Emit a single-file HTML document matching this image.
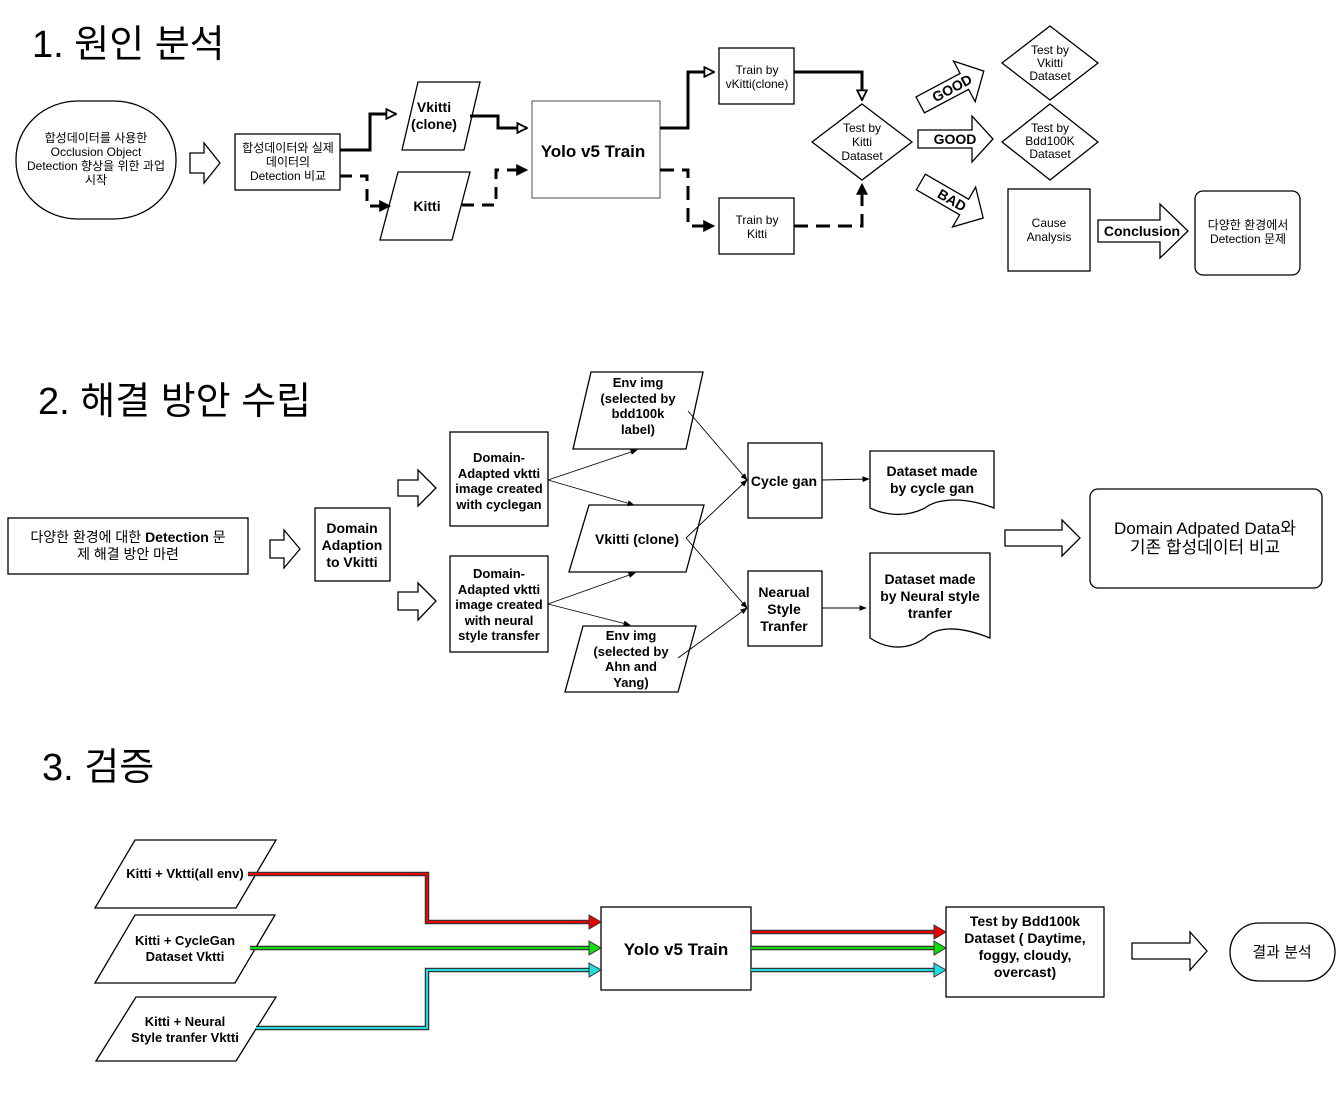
<!DOCTYPE html>
<html><head><meta charset="utf-8">
<style>
html,body{margin:0;padding:0;background:#fff;}
svg{display:block;}
text{font-family:"Liberation Sans","Noto Sans CJK KR",sans-serif;fill:#000;}
.b{font-weight:bold;}
</style></head><body>
<svg width="1340" height="1094" viewBox="0 0 1340 1094" xmlns="http://www.w3.org/2000/svg">
<defs>
<marker id="ao" viewBox="0 0 10 10" refX="9" refY="5" markerWidth="4" markerHeight="4" orient="auto" markerUnits="strokeWidth"><path d="M1,1 L9,5 L1,9 Z" fill="#fff" stroke="#000" stroke-width="1.5"/></marker>
<marker id="af" viewBox="0 0 10 10" refX="9" refY="5" markerWidth="4" markerHeight="4" orient="auto" markerUnits="strokeWidth"><path d="M0,0 L10,5 L0,10 Z" fill="#000"/></marker>
<marker id="as" viewBox="0 0 10 10" refX="9" refY="5" markerWidth="8" markerHeight="8" orient="auto" markerUnits="strokeWidth"><path d="M0,1 L10,5 L0,9 Z" fill="#000"/></marker>
</defs>
<g fill="#fff" stroke="#000" stroke-width="1.3">
<rect x="16" y="101" width="160" height="118" rx="62" ry="58"/>
<path d="M190,153 H204 V143 L220,163 L204,183 V173 H190 Z"/>
<rect x="235" y="134" width="105" height="56"/>
<path d="M418,82 H480 L464,150 H402 Z"/>
<path d="M398,172 H470 L452,240 H380 Z"/>
<rect x="532" y="101" width="128" height="97" stroke="#777"/>
<rect x="719" y="48" width="75" height="56"/>
<rect x="719" y="198" width="75" height="56"/>
<path d="M862,104 L912,142 L862,180 L812,142 Z"/>
<path d="M1050,26 L1098,63 L1050,100 L1002,63 Z"/>
<path d="M1050,104 L1098,142 L1050,180 L1002,142 Z"/>
<path d="M918,130 H972 V116 L993,139 L972,162 V148 H918 Z"/>
<g transform="translate(952,88) rotate(-28)"><path d="M-36,-9 H14 V-23 L36,0 L14,23 V9 H-36 Z"/></g>
<g transform="translate(952,200) rotate(30)"><path d="M-36,-9 H14 V-23 L36,0 L14,23 V9 H-36 Z"/></g>
<rect x="1008" y="189" width="82" height="82"/>
<path d="M1098,220 H1160 V204 L1188,231 L1160,258 V242 H1098 Z"/>
<rect x="1195" y="191" width="105" height="84" rx="8"/>
</g>
<g fill="none" stroke="#000" stroke-width="3">
<path d="M340,150 H370 V114 H396" marker-end="url(#ao)"/>
<path d="M340,176 H367 V206 H390" stroke-dasharray="12,8" marker-end="url(#af)"/>
<path d="M470,116 H498 V128 H527" marker-end="url(#ao)"/>
<path d="M462,205 H496 V170 H527" stroke-dasharray="12,8" marker-end="url(#af)"/>
<path d="M660,128 H688 V72 H714" marker-end="url(#ao)"/>
<path d="M660,170 H688 V226 H714" stroke-dasharray="14,8" marker-end="url(#af)"/>
<path d="M794,72 H862 V100" marker-end="url(#ao)"/>
<path d="M794,226 H862 V184" stroke-dasharray="14,8" marker-end="url(#af)"/>
</g>
<text x="32" y="57" font-size="38">1. 원인 분석</text>
<g font-size="12" text-anchor="middle">
<text x="96" y="142">합성데이터를 사용한</text>
<text x="96" y="156">Occlusion Object</text>
<text x="96" y="170">Detection 향상을 위한 과업</text>
<text x="96" y="184">시작</text>
<text x="288" y="152">합성데이터와 실제</text>
<text x="288" y="166">데이터의</text>
<text x="288" y="180">Detection 비교</text>
<text x="757" y="74">Train by</text>
<text x="757" y="88">vKitti(clone)</text>
<text x="757" y="224">Train by</text>
<text x="757" y="238">Kitti</text>
<text x="862" y="132">Test by</text>
<text x="862" y="146">Kitti</text>
<text x="862" y="160">Dataset</text>
<text x="1050" y="54">Test by</text>
<text x="1050" y="67">Vkitti</text>
<text x="1050" y="80">Dataset</text>
<text x="1050" y="132">Test by</text>
<text x="1050" y="145">Bdd100K</text>
<text x="1050" y="158">Dataset</text>
<text x="1049" y="227">Cause</text>
<text x="1049" y="241">Analysis</text>
<text x="1248" y="229">다양한 환경에서</text>
<text x="1248" y="243">Detection 문제</text>
</g>
<g font-size="14" text-anchor="middle" class="b">
<text class="b" x="434" y="112">Vkitti</text>
<text class="b" x="434" y="129">(clone)</text>
<text class="b" x="427" y="211">Kitti</text>
<text class="b" x="955" y="144">GOOD</text>
<text class="b" x="1142" y="236">Conclusion</text>
<text class="b" x="952" y="93" transform="rotate(-28 952 88)">GOOD</text>
<text class="b" x="952" y="205" transform="rotate(30 952 200)">BAD</text>
</g>
<text class="b" x="593" y="157" font-size="17" text-anchor="middle">Yolo v5 Train</text>

<text x="38" y="414" font-size="38">2. 해결 방안 수립</text>
<g fill="#fff" stroke="#000" stroke-width="1.3">
<rect x="8" y="518" width="240" height="56"/>
<path d="M270,540 H284 V530 L300,549 L284,568 V558 H270 Z"/>
<rect x="315" y="508" width="75" height="73"/>
<path d="M398,480 H418 V470 L436,488 L418,506 V496 H398 Z"/>
<path d="M398,592 H418 V583 L436,601 L418,620 V610 H398 Z"/>
<rect x="450" y="432" width="98" height="94"/>
<rect x="450" y="556" width="98" height="96"/>
<path d="M591,372 H703 L686,449 H573 Z"/>
<path d="M589,505 H704 L686,572 H569 Z"/>
<path d="M583,626 H696 L678,692 H565 Z"/>
<rect x="748" y="443" width="74" height="75"/>
<rect x="748" y="571" width="74" height="75"/>
<path d="M870,451 H994 V508 C960,495 935,500 925,508 C905,518 885,515 870,508 Z"/>
<path d="M870,553 H990 V638 C955,624 935,628 925,638 C905,652 885,648 870,638 Z"/>
<path d="M1005,530 H1062 V520 L1080,538 L1062,556 V546 H1005 Z"/>
<rect x="1090" y="489" width="232" height="99" rx="8"/>
</g>
<g fill="none" stroke="#000" stroke-width="0.9">
<path d="M548,480 L637,450" marker-end="url(#as)"/>
<path d="M548,480 L634,505" marker-end="url(#as)"/>
<path d="M548,604 L635,573" marker-end="url(#as)"/>
<path d="M548,604 L630,625" marker-end="url(#as)"/>
<path d="M688,411 L747,480" marker-end="url(#as)"/>
<path d="M686,538 L747,480" marker-end="url(#as)"/>
<path d="M686,538 L747,608" marker-end="url(#as)"/>
<path d="M678,658 L747,608" marker-end="url(#as)"/>
<path d="M822,480 L869,479" marker-end="url(#as)"/>
<path d="M822,608 L866,608" marker-end="url(#as)"/>
</g>
<g font-size="14" text-anchor="middle">
<text x="128" y="542">다양한 환경에 대한 <tspan class="b">Detection</tspan> 문</text>
<text x="128" y="559">제 해결 방안 마련</text>
<text x="1205" y="534" font-size="17">Domain Adpated Data와</text>
<text x="1205" y="553" font-size="17">기존 합성데이터 비교</text>
</g>
<g font-size="13" text-anchor="middle" class="b">
<text class="b" x="352" y="533" font-size="14">Domain</text>
<text class="b" x="352" y="550" font-size="14">Adaption</text>
<text class="b" x="352" y="567" font-size="14">to Vkitti</text>
<text class="b" x="499" y="462">Domain-</text>
<text class="b" x="499" y="478">Adapted vktti</text>
<text class="b" x="499" y="493">image created</text>
<text class="b" x="499" y="509">with cyclegan</text>
<text class="b" x="499" y="578">Domain-</text>
<text class="b" x="499" y="594">Adapted vktti</text>
<text class="b" x="499" y="609">image created</text>
<text class="b" x="499" y="625">with neural</text>
<text class="b" x="499" y="640">style transfer</text>
<text class="b" x="638" y="387">Env img</text>
<text class="b" x="638" y="403">(selected by</text>
<text class="b" x="638" y="418">bdd100k</text>
<text class="b" x="638" y="434">label)</text>
<text class="b" x="637" y="544" font-size="14">Vkitti (clone)</text>
<text class="b" x="631" y="640">Env img</text>
<text class="b" x="631" y="656">(selected by</text>
<text class="b" x="631" y="671">Ahn and</text>
<text class="b" x="631" y="687">Yang)</text>
<text class="b" x="784" y="486" font-size="14">Cycle gan</text>
<text class="b" x="784" y="597" font-size="14">Nearual</text>
<text class="b" x="784" y="614" font-size="14">Style</text>
<text class="b" x="784" y="631" font-size="14">Tranfer</text>
<text class="b" x="932" y="476" font-size="14">Dataset made</text>
<text class="b" x="932" y="493" font-size="14">by cycle gan</text>
<text class="b" x="930" y="584" font-size="14">Dataset made</text>
<text class="b" x="930" y="601" font-size="14">by Neural style</text>
<text class="b" x="930" y="618" font-size="14">tranfer</text>
</g>

<text x="42" y="780" font-size="38">3. 검증</text>
<g fill="#fff" stroke="#000" stroke-width="1.3">
<path d="M135,840 H276 L236,908 H95 Z"/>
<path d="M135,915 H275 L235,983 H95 Z"/>
<path d="M136,997 H276 L236,1061 H96 Z"/>
<rect x="601" y="907" width="150" height="83"/>
<rect x="946" y="907" width="158" height="90"/>
<path d="M1132,943 H1190 V932 L1207,951 L1190,970 V959 H1132 Z"/>
<rect x="1230" y="923" width="105" height="58" rx="29"/>
</g>
<g fill="none" stroke-width="4.5" stroke="#333">
<path d="M248,874 H427 V922 H590"/><path d="M250,948 H590"/><path d="M256,1028 H427 V970 H590"/>
<path d="M751,932 H935"/><path d="M751,948 H935"/><path d="M751,970 H935"/>
</g>
<g fill="none" stroke-width="2">
<path d="M248,874 H427 V922 H590" stroke="#e00"/><path d="M250,948 H590" stroke="#1d1"/><path d="M256,1028 H427 V970 H590" stroke="#2dd"/>
<path d="M751,932 H935" stroke="#e00"/><path d="M751,948 H935" stroke="#1d1"/><path d="M751,970 H935" stroke="#2dd"/>
</g>
<g stroke="#333" stroke-width="1">
<path d="M589,915 L601,922 L589,929 Z" fill="#e00"/><path d="M589,941 L601,948 L589,955 Z" fill="#1d1"/><path d="M589,963 L601,970 L589,977 Z" fill="#2dd"/>
<path d="M934,925 L946,932 L934,939 Z" fill="#e00"/><path d="M934,941 L946,948 L934,955 Z" fill="#1d1"/><path d="M934,963 L946,970 L934,977 Z" fill="#2dd"/>
</g>
<g font-size="13" text-anchor="middle">
<text class="b" x="185" y="878">Kitti + Vktti(all env)</text>
<text class="b" x="185" y="945">Kitti + CycleGan</text>
<text class="b" x="185" y="961">Dataset Vktti</text>
<text class="b" x="185" y="1026">Kitti + Neural</text>
<text class="b" x="185" y="1042">Style tranfer Vktti</text>
<text class="b" x="1025" y="926" font-size="14">Test by Bdd100k</text>
<text class="b" x="1025" y="943" font-size="14">Dataset ( Daytime,</text>
<text class="b" x="1025" y="960" font-size="14">foggy, cloudy,</text>
<text class="b" x="1025" y="977" font-size="14">overcast)</text>
<text x="1282" y="957" font-size="15">결과 분석</text>
</g>
<text class="b" x="676" y="955" font-size="17" text-anchor="middle">Yolo v5 Train</text>
</svg>
</body></html>
